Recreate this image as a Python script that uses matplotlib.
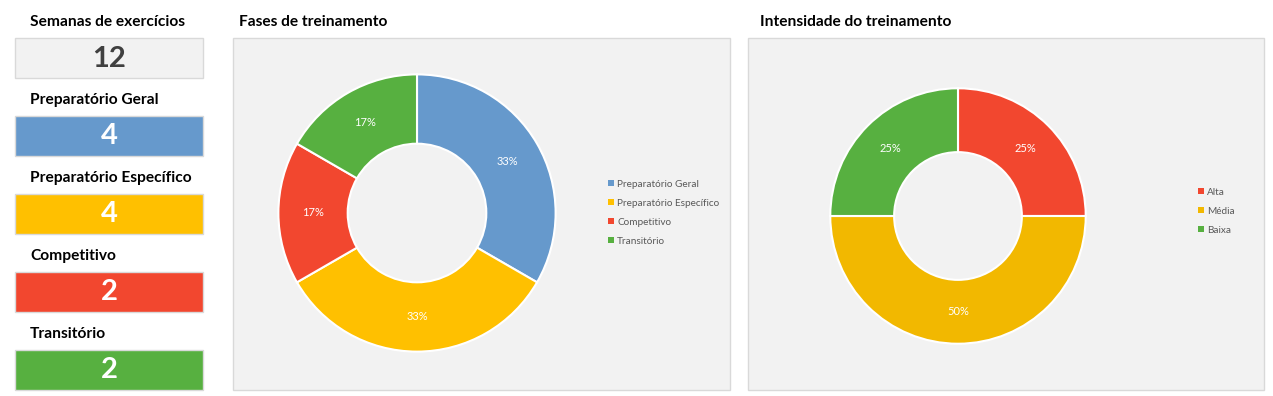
import matplotlib.pyplot as plt
from matplotlib.patches import Rectangle

# --- data ---
total_label = "Semanas de exercícios"
total_weeks = 12
fases = ["Preparatório Geral", "Preparatório Específico", "Competitivo", "Transitório"]
fases_semanas = [4, 4, 2, 2]
fases_cores = ["#6699cc", "#ffc000", "#f2472f", "#57b040"]

intensidade = ["Alta", "Média", "Baixa"]
intensidade_valores = [25, 50, 25]
intensidade_cores = ["#f2472f", "#f2b800", "#57b040"]

W, H = 1273, 396
plt.rcParams['font.family'] = ['Lato', 'DejaVu Sans']

fig = plt.figure(figsize=(W / 100, H / 100), dpi=100)
fig.patch.set_facecolor("white")

# background axes in pixel coordinates
bg = fig.add_axes([0, 0, 1, 1])
bg.set_xlim(0, W)
bg.set_ylim(H, 0)
bg.axis("off")

# --- left column: cards ---
bg.text(30, 22, total_label, fontsize=11.2, fontweight="bold", va="center", ha="left")
bg.add_patch(Rectangle((15, 37.5), 188, 40, facecolor="#f2f2f2", edgecolor="#d9d9d9", lw=1))
bg.text(109, 59, str(total_weeks), fontsize=21, fontweight="bold", color="#404040",
        ha="center", va="center")

y0 = 115.5
for i, (nome, val, cor) in enumerate(zip(fases, fases_semanas, fases_cores)):
    y = y0 + i * 78
    bg.text(30, y - 15.5, nome, fontsize=11.2, fontweight="bold", va="center", ha="left")
    bg.add_patch(Rectangle((15, y), 188, 40, facecolor=cor, edgecolor="#d9d9d9", lw=1))
    bg.text(109, y + 21, str(val), fontsize=21, fontweight="bold", color="white",
            ha="center", va="center")

# --- chart panels ---
bg.add_patch(Rectangle((232.5, 37.5), 497, 352, facecolor="#f2f2f2", edgecolor="#d9d9d9", lw=1))
bg.text(239, 22, "Fases de treinamento", fontsize=11.2, fontweight="bold", va="center")
bg.add_patch(Rectangle((747.5, 37.5), 516, 352, facecolor="#f2f2f2", edgecolor="#d9d9d9", lw=1))
bg.text(760, 22, "Intensidade do treinamento", fontsize=11.2, fontweight="bold", va="center")


def donut(cx, cy, r, valores, cores, nomes, leg_x, leg_y):
    ax = fig.add_axes([(cx - r) / W, 1 - (cy + r) / H, 2 * r / W, 2 * r / H])
    wedges, _, autotexts = ax.pie(
        valores, colors=cores, startangle=90, counterclock=False,
        autopct="%.0f%%", pctdistance=0.75,
        wedgeprops=dict(width=0.5, edgecolor="white", linewidth=1.5),
        textprops=dict(color="white", fontsize=8))
    ax.set_xlim(-1.01, 1.01)
    ax.set_ylim(-1.01, 1.01)
    ax.set_aspect("equal")
    ax.axis("off")
    leg = fig.legend(wedges, nomes, loc="center left",
                     bbox_to_anchor=(leg_x / W, 1 - leg_y / H),
                     frameon=False, fontsize=7.2, handlelength=0.55, handleheight=0.55,
                     handletextpad=0.35, labelspacing=1.0, borderaxespad=0)
    for t in leg.get_texts():
        t.set_color("#595959")
    for h in leg.legend_handles:
        h.set_linewidth(0)
    return ax


donut(417, 213, 140, fases_semanas, fases_cores, fases, 604, 212.5)
donut(958, 216, 129, intensidade_valores, intensidade_cores, intensidade, 1194, 211)

fig.savefig("out.png", dpi=100, facecolor="white")
